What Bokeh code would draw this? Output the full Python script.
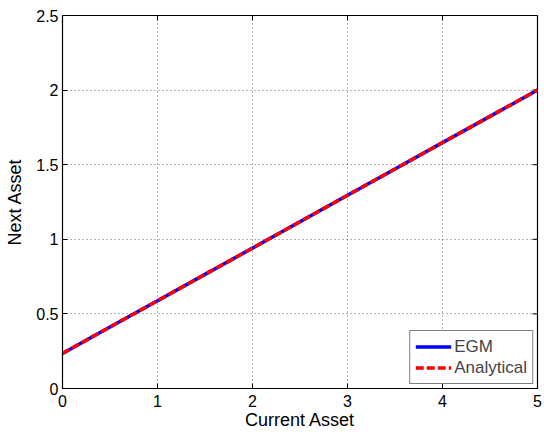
import math
from bokeh.plotting import figure
from bokeh.models import Range1d, FixedTicker, Legend, LegendItem
from bokeh.embed import file_html
from bokeh.resources import INLINE

current_asset = [0, 0.5, 1, 1.5, 2, 2.5, 3, 3.5, 4, 4.5, 5]
egm_next = [0.235, 0.412, 0.588, 0.765, 0.941, 1.118, 1.295, 1.471, 1.648, 1.824, 2.0]
analytical_next = [0.235, 0.412, 0.588, 0.765, 0.941, 1.118, 1.295, 1.471, 1.648, 1.824, 2.0]
x_ticks = [0, 1, 2, 3, 4, 5]
y_ticks = [0, 0.5, 1, 1.5, 2, 2.5]

FONT = "Liberation Sans"

p = figure(width=544, height=432, output_backend="svg", toolbar_location=None,
           x_range=Range1d(x_ticks[0], x_ticks[-1]), y_range=Range1d(y_ticks[0], y_ticks[-1]),
           min_border_left=62, min_border_right=7, min_border_top=15, min_border_bottom=43)
p.outline_line_color = "black"
p.outline_line_width = 1.2

for ax in [p.xaxis[0], p.yaxis[0]]:
    ax.major_tick_in = 5
    ax.major_tick_out = 0
    ax.minor_tick_in = 0
    ax.minor_tick_out = 0
    ax.axis_line_color = "black"
    ax.major_tick_line_color = "black"
    ax.major_label_text_font = FONT
    ax.major_label_text_font_size = "16px"
    ax.major_label_text_color = "black"
    ax.axis_label_text_font = FONT
    ax.axis_label_text_font_size = "18px"
    ax.axis_label_text_font_style = "normal"
    ax.axis_label_text_color = "black"

p.xaxis[0].ticker = FixedTicker(ticks=x_ticks)
p.yaxis[0].ticker = FixedTicker(ticks=y_ticks)
p.xaxis[0].axis_label = "Current Asset"
p.yaxis[0].axis_label = "Next Asset"
p.xaxis[0].major_label_standoff = 6
p.yaxis[0].major_label_standoff = 4
p.xaxis[0].axis_label_standoff = 0
p.yaxis[0].axis_label_standoff = 8

p.xgrid[0].ticker = FixedTicker(ticks=x_ticks)
p.ygrid[0].ticker = FixedTicker(ticks=y_ticks)
for g in [p.xgrid[0], p.ygrid[0]]:
    g.grid_line_color = "black"
    g.grid_line_alpha = 0.6
    g.grid_line_dash = "1 3"
    g.grid_line_width = 1

# inward tick marks on the top and right edges (clipped by the frame)
p.scatter(x=x_ticks, y=[y_ticks[-1]] * len(x_ticks), marker="dash", size=10,
          angle=math.pi / 2, line_color="black", line_width=1)
p.scatter(x=[x_ticks[-1]] * len(y_ticks), y=y_ticks, marker="dash", size=10,
          line_color="black", line_width=1)

r1 = p.line(current_asset, egm_next, line_color="blue", line_width=3.5)
r2 = p.line(current_asset, analytical_next, line_color="red", line_width=3.5, line_dash="8 3")

legend = Legend(items=[LegendItem(label="EGM", renderers=[r1]),
                       LegendItem(label="Analytical", renderers=[r2])],
                location="bottom_right")
legend.border_line_color = "black"
legend.border_line_width = 1
legend.label_text_font = FONT
legend.label_text_font_size = "17px"
legend.label_standoff = 3
legend.glyph_width = 36
legend.glyph_height = 21
legend.spacing = 0
legend.padding = 5
legend.margin = 4
legend.label_height = 20
legend.background_fill_alpha = 1
p.add_layout(legend, "center")

open("out.html", "w").write(file_html(p, INLINE))
